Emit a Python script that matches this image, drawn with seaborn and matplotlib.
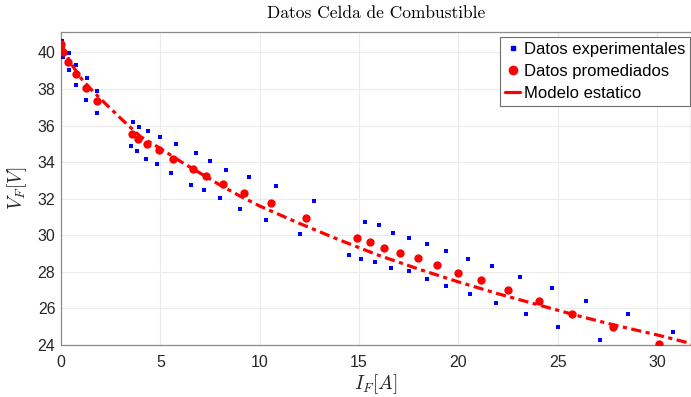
import numpy as np
import pandas as pd
import matplotlib
matplotlib.use('Agg')
import matplotlib.pyplot as plt
import seaborn as sns
from matplotlib.lines import Line2D

# Experimental data (current A, voltage V)
exp_I = [0.03, 0.00, 0.12, 0.10, 0.39, 0.39, 0.77, 0.75, 1.29, 1.24, 1.79, 1.83,
         3.60, 3.50, 3.90, 3.84, 4.39, 4.27, 4.97, 4.84, 5.81, 5.56, 6.78, 6.55,
         7.49, 7.22, 8.29, 7.99, 9.45, 9.00, 10.80, 10.30, 12.71, 12.01,
         14.47, 15.31, 15.09, 15.99, 15.80, 16.70, 16.60, 17.50, 17.50, 18.41, 18.41,
         19.38, 19.39, 20.50, 20.60, 21.71, 21.91, 23.10, 23.42, 24.71, 25.01,
         26.42, 27.12, 28.51, 30.80, 29.40]
exp_V = [40.63, 40.25, 39.73, 40.33, 39.95, 39.03, 39.32, 38.21, 38.61, 37.39, 37.90, 36.70,
         36.19, 34.90, 35.90, 34.59, 35.70, 34.17, 35.39, 33.90, 34.99, 33.39, 34.48, 32.77,
         34.08, 32.46, 33.57, 32.05, 33.17, 31.44, 32.68, 30.84, 31.86, 30.05,
         28.92, 30.74, 28.72, 30.56, 28.52, 30.14, 28.21, 29.84, 28.03, 29.54, 27.61,
         29.14, 27.21, 28.72, 26.81, 28.32, 26.30, 27.72, 25.70, 27.12, 25.00,
         26.41, 24.30, 25.72, 24.70, 23.42]

# Averaged data
avg_I = [0.00, 0.11, 0.37, 0.75, 1.26, 1.79, 3.55, 3.89, 4.31, 4.94, 5.64, 6.65,
         7.32, 8.16, 9.21, 10.55, 12.35, 14.89, 15.56, 16.25, 17.05, 17.95, 18.90,
         19.97, 21.14, 22.51, 24.04, 25.71, 27.80, 30.10]
avg_V = [40.44, 40.03, 39.50, 38.80, 38.03, 37.34, 35.54, 35.25, 34.97, 34.66, 34.20, 33.60,
         33.26, 32.80, 32.30, 31.75, 30.93, 29.84, 29.63, 29.32, 29.02, 28.78, 28.38,
         27.96, 27.56, 27.01, 26.41, 25.70, 25.00, 24.06]

# Static model curve
model_I = [0, 0.5, 1, 1.5, 2, 3, 4, 5, 6, 7, 8, 9, 10, 12, 14, 16, 18, 20, 22, 24, 26, 28, 30, 32]
model_V = [40.45, 39.4, 38.6, 38.0, 37.45, 36.4, 35.4, 34.75, 34.05, 33.4, 32.75, 32.15, 31.6,
           30.65, 29.75, 28.9, 28.15, 27.45, 26.8, 26.2, 25.6, 25.05, 24.55, 24.0]

x_ticks = [0, 5, 10, 15, 20, 25, 30]
y_ticks = [24, 26, 28, 30, 32, 34, 36, 38, 40]

df_exp = pd.DataFrame({'I': exp_I, 'V': exp_V})
df_avg = pd.DataFrame({'I': avg_I, 'V': avg_V})
df_mod = pd.DataFrame({'I': model_I, 'V': model_V})

sns.set_theme(style='whitegrid')
plt.rcParams['font.family'] = ['Liberation Sans', 'DejaVu Sans']
plt.rcParams['mathtext.fontset'] = 'cm'

fig = plt.figure(figsize=(6.91, 3.97), dpi=100)
ax = fig.add_axes([61/691, 52/397, 630/691, 313/397])

sns.scatterplot(data=df_exp, x='I', y='V', ax=ax, marker='s', s=9, color='#0000ff',
                linewidth=0, zorder=3)
sns.scatterplot(data=df_avg, x='I', y='V', ax=ax, marker='o', s=36, color='#ff0000',
                linewidth=0, zorder=4)
sns.lineplot(data=df_mod, x='I', y='V', ax=ax, color='#ff0000', linewidth=2.3,
             zorder=5, sort=False)
ax.lines[-1].set_linestyle((0, (3.2, 1.4, 1.3, 1.4)))

ax.set_xlim(0, 31.7)
ax.set_ylim(24, 41.12)
ax.set_xticks(x_ticks)
ax.set_yticks(y_ticks)
ax.grid(True, color='#ebebeb', linewidth=0.8)
for side in ['left', 'bottom', 'top', 'right']:
    ax.spines[side].set_visible(True)
    ax.spines[side].set_color('#8a8a8a')
    ax.spines[side].set_linewidth(0.9)
ax.tick_params(axis='both', direction='in', length=4, width=0.8, color='#8a8a8a',
               labelsize=11.5, labelcolor='#262626')
ax.tick_params(axis='x', pad=7)
ax.tick_params(axis='y', pad=4)
ax.set_facecolor('white')

ax.set_xlabel(r'$I_F[A]$', fontsize=14, color='#262626', labelpad=2)
ax.set_ylabel(r'$V_F[V]$', fontsize=14, color='#262626', labelpad=6)
ax.set_title('Datos Celda de Combustible', fontfamily='cmr10', fontsize=12.5,
             color='black', pad=10)

handles = [
    Line2D([], [], marker='s', color='#0000ff', linestyle='none', markersize=3),
    Line2D([], [], marker='o', color='#ff0000', linestyle='none', markersize=6),
    Line2D([], [], color='#ff0000', linewidth=2.3, linestyle='-'),
]
labels = ['Datos experimentales', 'Datos promediados', 'Modelo estatico']
leg = ax.legend(handles, labels, loc='upper right',
                bbox_to_anchor=(1 - 1/630, 1 - 5/313), borderaxespad=0,
                fontsize=12, frameon=True,
                fancybox=False, framealpha=1, edgecolor='#6e6e6e',
                handlelength=0.9, handletextpad=0.2, borderpad=0.3,
                labelspacing=0.42)
leg.get_frame().set_linewidth(0.8)
for t in leg.get_texts():
    t.set_color('black')

fig.savefig('out.png', dpi=100)
